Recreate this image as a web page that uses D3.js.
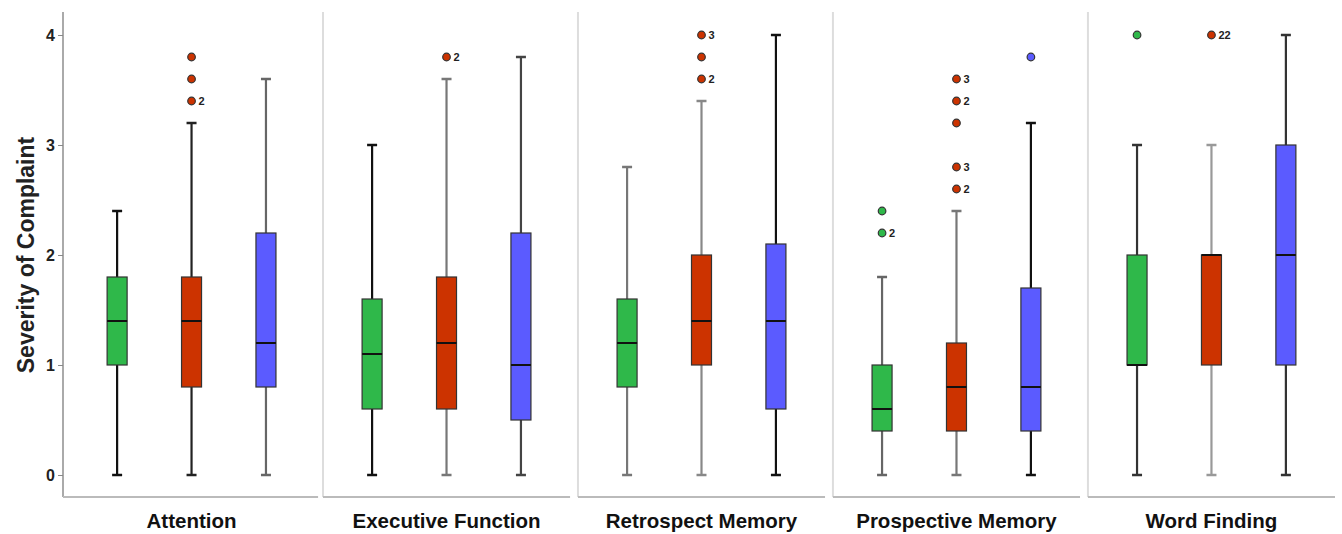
<!DOCTYPE html>
<html>
<head>
<meta charset="utf-8">
<script src="https://cdn.jsdelivr.net/npm/d3@7"></script>
<style>
  body { margin: 0; background: #fff; }
  text { font-family: "Liberation Sans", Arial, sans-serif; font-weight: bold; }
</style>
</head>
<body>
<div id="chart"></div>
<script>
// domains and groups
var domains = ["Attention", "Executive Function", "Retrospect Memory", "Prospective Memory", "Word Finding"];
var groups = ["g1", "g2", "g3"];
var groupColors = ["#2fb84a", "#cc3300", "#5b5bff"];

// five-number summaries [min, q1, median, q3, max], one row per group, per domain
var attention = [[0, 1.0, 1.4, 1.8, 2.4], [0, 0.8, 1.4, 1.8, 3.2], [0, 0.8, 1.2, 2.2, 3.6]];
var executive = [[0, 0.6, 1.1, 1.6, 3.0], [0, 0.6, 1.2, 1.8, 3.6], [0, 0.5, 1.0, 2.2, 3.8]];
var retrospect = [[0, 0.8, 1.2, 1.6, 2.8], [0, 1.0, 1.4, 2.0, 3.4], [0, 0.6, 1.4, 2.1, 4.0]];
var prospective = [[0, 0.4, 0.6, 1.0, 1.8], [0, 0.4, 0.8, 1.2, 2.4], [0, 0.4, 0.8, 1.7, 3.2]];
var wordFinding = [[0, 1.0, 1.0, 2.0, 3.0], [0, 1.0, 2.0, 2.0, 3.0], [0, 1.0, 2.0, 3.0, 4.0]];
var summaries = [attention, executive, retrospect, prospective, wordFinding];

// outliers: [domain index, group index, value, count label]
var outliers = [
    [0, 1, 3.4, "2"], [0, 1, 3.6, ""], [0, 1, 3.8, ""],
    [1, 1, 3.8, "2"],
    [2, 1, 3.6, "2"], [2, 1, 3.8, ""], [2, 1, 4.0, "3"],
    [3, 0, 2.2, "2"], [3, 0, 2.4, ""],
    [3, 1, 2.6, "2"], [3, 1, 2.8, "3"], [3, 1, 3.2, ""], [3, 1, 3.4, "2"], [3, 1, 3.6, "3"],
    [3, 2, 3.8, ""],
    [4, 0, 4.0, ""], [4, 1, 4.0, "22"]
];

var yTicks = [0, 1, 2, 3, 4];

// whisker shading, as printed (dark / grey)
var whiskerTone = [
    ["#111", "#222", "#666"],
    ["#111", "#777", "#444"],
    ["#777", "#888", "#111"],
    ["#666", "#777", "#111"],
    ["#333", "#999", "#333"]
];

var width = 1342, height = 534;
var axisX = 63, frameTop = 12, frameBottom = 497;

var svg = d3.select("#chart").append("svg")
    .attr("width", width)
    .attr("height", height);

var y = d3.scaleLinear().domain([0, 4]).range([475, 35]);

var xPanel = d3.scaleBand()
    .domain(domains)
    .range([68, 1335])
    .paddingInner(0.031);

var xGroup = d3.scalePoint()
    .domain(groups)
    .range([0, xPanel.bandwidth()])
    .padding(0.66);

var boxW = 20, capW = 10;

// panel frames
domains.forEach(function (d, i) {
    var x0 = i === 0 ? axisX : xPanel(d);
    var x1 = xPanel(d) + xPanel.bandwidth() + (i === 0 ? 3 : 0);
    svg.append("line")
        .attr("x1", x0).attr("x2", x0)
        .attr("y1", frameTop).attr("y2", frameBottom)
        .style("stroke", i === 0 ? "#aaa" : "#ddd")
        .style("stroke-width", 2);
    svg.append("line")
        .attr("x1", x0).attr("x2", x1)
        .attr("y1", frameBottom).attr("y2", frameBottom)
        .style("stroke", "#bbb")
        .style("stroke-width", 2);
    svg.append("text")
        .attr("x", xPanel(d) + xPanel.bandwidth() / 2)
        .attr("y", 528)
        .attr("text-anchor", "middle")
        .style("font-size", "20.5px")
        .style("fill", "#111")
        .text(d);
});

// y axis ticks
var yAxis = svg.append("g")
    .attr("transform", "translate(" + axisX + ",0)")
    .call(d3.axisLeft(y).tickValues(yTicks).tickSize(5).tickFormat(d3.format("d")));
yAxis.select(".domain").remove();
yAxis.selectAll(".tick line").style("stroke", "#888");
yAxis.selectAll(".tick text")
    .style("font-size", "16px")
    .style("font-family", "'Liberation Sans', Arial, sans-serif")
    .style("font-weight", "bold")
    .style("fill", "#222")
    .attr("dy", "0.35em");

svg.append("text")
    .attr("transform", "translate(34," + (y(2)) + ") rotate(-90)")
    .attr("text-anchor", "middle")
    .style("font-size", "23px")
    .style("fill", "#222")
    .text("Severity of Complaint");

// boxes
summaries.forEach(function (rows, di) {
    var x0 = xPanel(domains[di]);
    rows.forEach(function (s, gi) {
        var cx = x0 + xGroup(groups[gi]);
        var tone = whiskerTone[di][gi];
        var g = svg.append("g");
        // whiskers
        g.append("line")
            .attr("x1", cx).attr("x2", cx)
            .attr("y1", y(s[0])).attr("y2", y(s[1]))
            .style("stroke", tone).style("stroke-width", 2.2);
        g.append("line")
            .attr("x1", cx).attr("x2", cx)
            .attr("y1", y(s[3])).attr("y2", y(s[4]))
            .style("stroke", tone).style("stroke-width", 2.2);
        [s[0], s[4]].forEach(function (v) {
            g.append("line")
                .attr("x1", cx - capW / 2).attr("x2", cx + capW / 2)
                .attr("y1", y(v)).attr("y2", y(v))
                .style("stroke", tone).style("stroke-width", 2.5);
        });
        // box
        g.append("rect")
            .attr("x", cx - boxW / 2)
            .attr("y", y(s[3]))
            .attr("width", boxW)
            .attr("height", y(s[1]) - y(s[3]))
            .style("fill", groupColors[gi])
            .style("stroke", "#333")
            .style("stroke-width", 1.2);
        // median
        g.append("line")
            .attr("x1", cx - boxW / 2).attr("x2", cx + boxW / 2)
            .attr("y1", y(s[2])).attr("y2", y(s[2]))
            .style("stroke", "#111").style("stroke-width", 2);
    });
});

// outliers
outliers.forEach(function (o) {
    var cx = xPanel(domains[o[0]]) + xGroup(groups[o[1]]);
    svg.append("circle")
        .attr("cx", cx)
        .attr("cy", y(o[2]))
        .attr("r", 3.8)
        .style("fill", groupColors[o[1]])
        .style("stroke", "#333")
        .style("stroke-width", 1.2);
    if (o[3]) {
        svg.append("text")
            .attr("x", cx + 7)
            .attr("y", y(o[2]) + 4)
            .style("font-size", "11px")
            .style("fill", "#222")
            .text(o[3]);
    }
});
</script>
</body>
</html>
